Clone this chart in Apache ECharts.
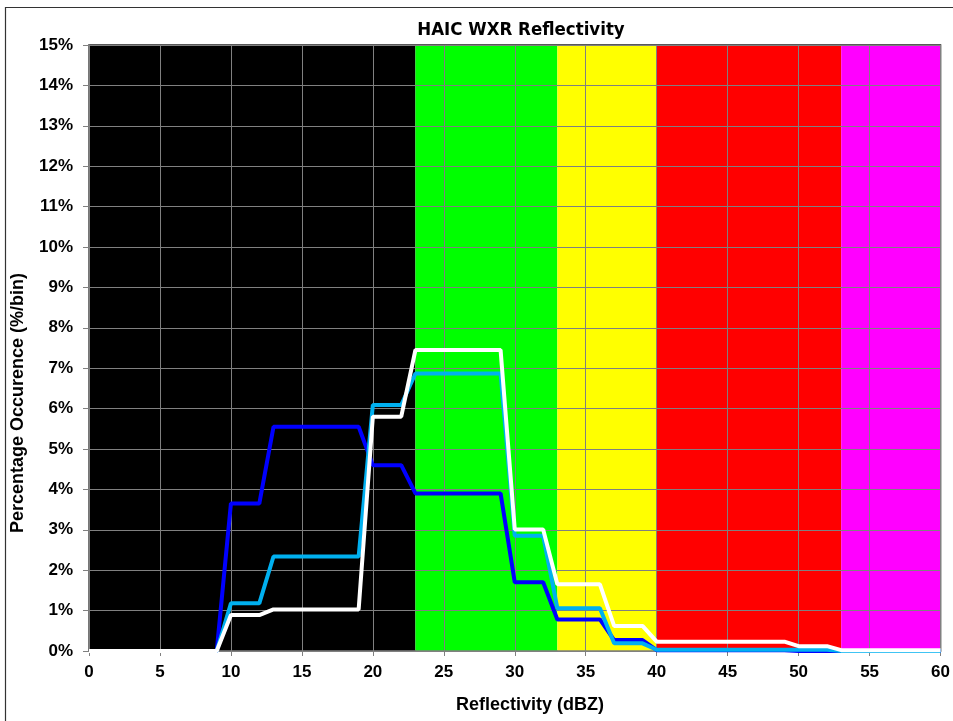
<!DOCTYPE html>
<html>
<head>
<meta charset="utf-8">
<script src="https://cdn.jsdelivr.net/npm/echarts@6/dist/echarts.min.js"></script>
<style>html,body{margin:0;padding:0;background:#fff}#chart{width:953px;height:721px}</style>
</head>
<body>
<div id="chart"></div>
<script>
// Reflectivity bands (dBZ)
const bandStart = [0, 23, 33, 40, 53];
const bandEnd   = [23, 33, 40, 53, 60];
const bandNames = ['black', 'green', 'yellow', 'red', 'magenta'];

// Series 1 (dark blue)
const s1X = [0, 9, 10, 12, 13, 19, 20, 22, 23, 29, 30, 32, 33, 36, 37, 39, 40, 49, 50, 60];
const s1Y = [0, 0, 3.65, 3.65, 5.55, 5.55, 4.6, 4.6, 3.9, 3.9, 1.7, 1.7, 0.78, 0.78, 0.27, 0.27, 0.02, 0.02, 0, 0];
// Series 2 (light blue)
const s2X = [0, 9, 10, 12, 13, 19, 20, 22, 23, 29, 30, 32, 33, 36, 37, 39, 40, 52, 53, 60];
const s2Y = [0, 0, 1.18, 1.18, 2.34, 2.34, 6.09, 6.09, 6.87, 6.87, 2.85, 2.85, 1.06, 1.06, 0.19, 0.19, 0.03, 0.03, 0, 0];
// Series 3 (white)
const s3X = [0, 9, 10, 12, 13, 19, 20, 22, 23, 29, 30, 32, 33, 36, 37, 39, 40, 49, 50, 52, 53, 60];
const s3Y = [0, 0, 0.89, 0.89, 1.03, 1.03, 5.80, 5.80, 7.45, 7.45, 3.01, 3.01, 1.65, 1.65, 0.62, 0.62, 0.23, 0.23, 0.12, 0.12, 0.02, 0.02];

const xMin = 0, xMax = 60, xStep = 5;
const yMin = 0, yMax = 15, yStep = 1;

const bandColor = {black:'#000000', green:'#00FF00', yellow:'#FFFF00', red:'#FF0000', magenta:'#FF00FF'};
const pairs = (xs, ys) => xs.map((x, i) => [x, ys[i]]);

const chart = echarts.init(document.getElementById('chart'), null, {renderer: 'canvas'});
const font = '"Liberation Sans", Arial, sans-serif';

chart.setOption({
  animation: false,
  backgroundColor: '#ffffff',
  grid: {left: 89, right: 10, top: 45, bottom: 70, show: true, borderColor: '#222', borderWidth: 1.5, backgroundColor: 'transparent', z: 0},
  xAxis: {
    type: 'value', min: xMin, max: xMax, interval: xStep, z: 2,
    axisLine: {show: true, onZero: false, lineStyle: {color: '#808080', width: 1.5}},
    axisTick: {show: true, length: 5, lineStyle: {color: '#808080'}},
    splitLine: {show: true, lineStyle: {color: '#808080', width: 1}},
    axisLabel: {fontFamily: font, fontWeight: 'bold', fontSize: 17, color: '#000', margin: 13}
  },
  yAxis: {
    type: 'value', min: yMin, max: yMax, interval: yStep, z: 2,
    axisLine: {show: true, lineStyle: {color: '#808080', width: 1.5}},
    axisTick: {show: true, length: 6, lineStyle: {color: '#808080'}},
    splitLine: {show: true, lineStyle: {color: '#808080', width: 1}},
    axisLabel: {fontFamily: font, fontWeight: 'bold', fontSize: 17, color: '#000', margin: 16, formatter: '{value}%'}
  },
  graphic: [
    {type: 'rect', left: 3, top: 5, z: 100, silent: true,
     shape: {x: 0, y: 0, width: 1000, height: 800},
     style: {fill: 'none', stroke: '#333', lineWidth: 1.2}},
    {type: 'text', x: 521, y: 30, z: 100,
     style: {text: 'HAIC WXR Reflectivity', fontFamily: '"Liberation Sans Narrow", "DejaVu Sans Condensed", sans-serif', fontWeight: 'bold', fontSize: 18.5, fill: '#000', textAlign: 'center', textVerticalAlign: 'middle'}},
    {type: 'text', z: 100, x: 530, y: 705,
     style: {text: 'Reflectivity (dBZ)', fontFamily: font, fontWeight: 'bold', fontSize: 18, fill: '#000', textAlign: 'center', textVerticalAlign: 'middle'}},
    {type: 'text', z: 100, x: 18, y: 403, rotation: Math.PI / 2,
     style: {text: 'Percentage Occurence (%/bin)', fontFamily: font, fontWeight: 'bold', fontSize: 18, fill: '#000', textAlign: 'center', textVerticalAlign: 'middle'}}
  ],
  series: [
    {
      type: 'line', data: [], z: 1, silent: true,
      markArea: {
        silent: true,
        data: bandStart.map((s, i) => [
          {xAxis: s, yAxis: yMin, itemStyle: {color: bandColor[bandNames[i]], opacity: 1}},
          {xAxis: bandEnd[i], yAxis: yMax}
        ])
      }
    },
    {type: 'line', data: pairs(s1X, s1Y), z: 3, symbol: 'none', lineStyle: {color: '#0000FF', width: 4}},
    {type: 'line', data: pairs(s2X, s2Y), z: 4, symbol: 'none', lineStyle: {color: '#00B0F0', width: 4}},
    {type: 'line', data: pairs(s3X, s3Y), z: 5, symbol: 'none', lineStyle: {color: '#FFFFFF', width: 4}}
  ]
});
</script>
</body>
</html>
